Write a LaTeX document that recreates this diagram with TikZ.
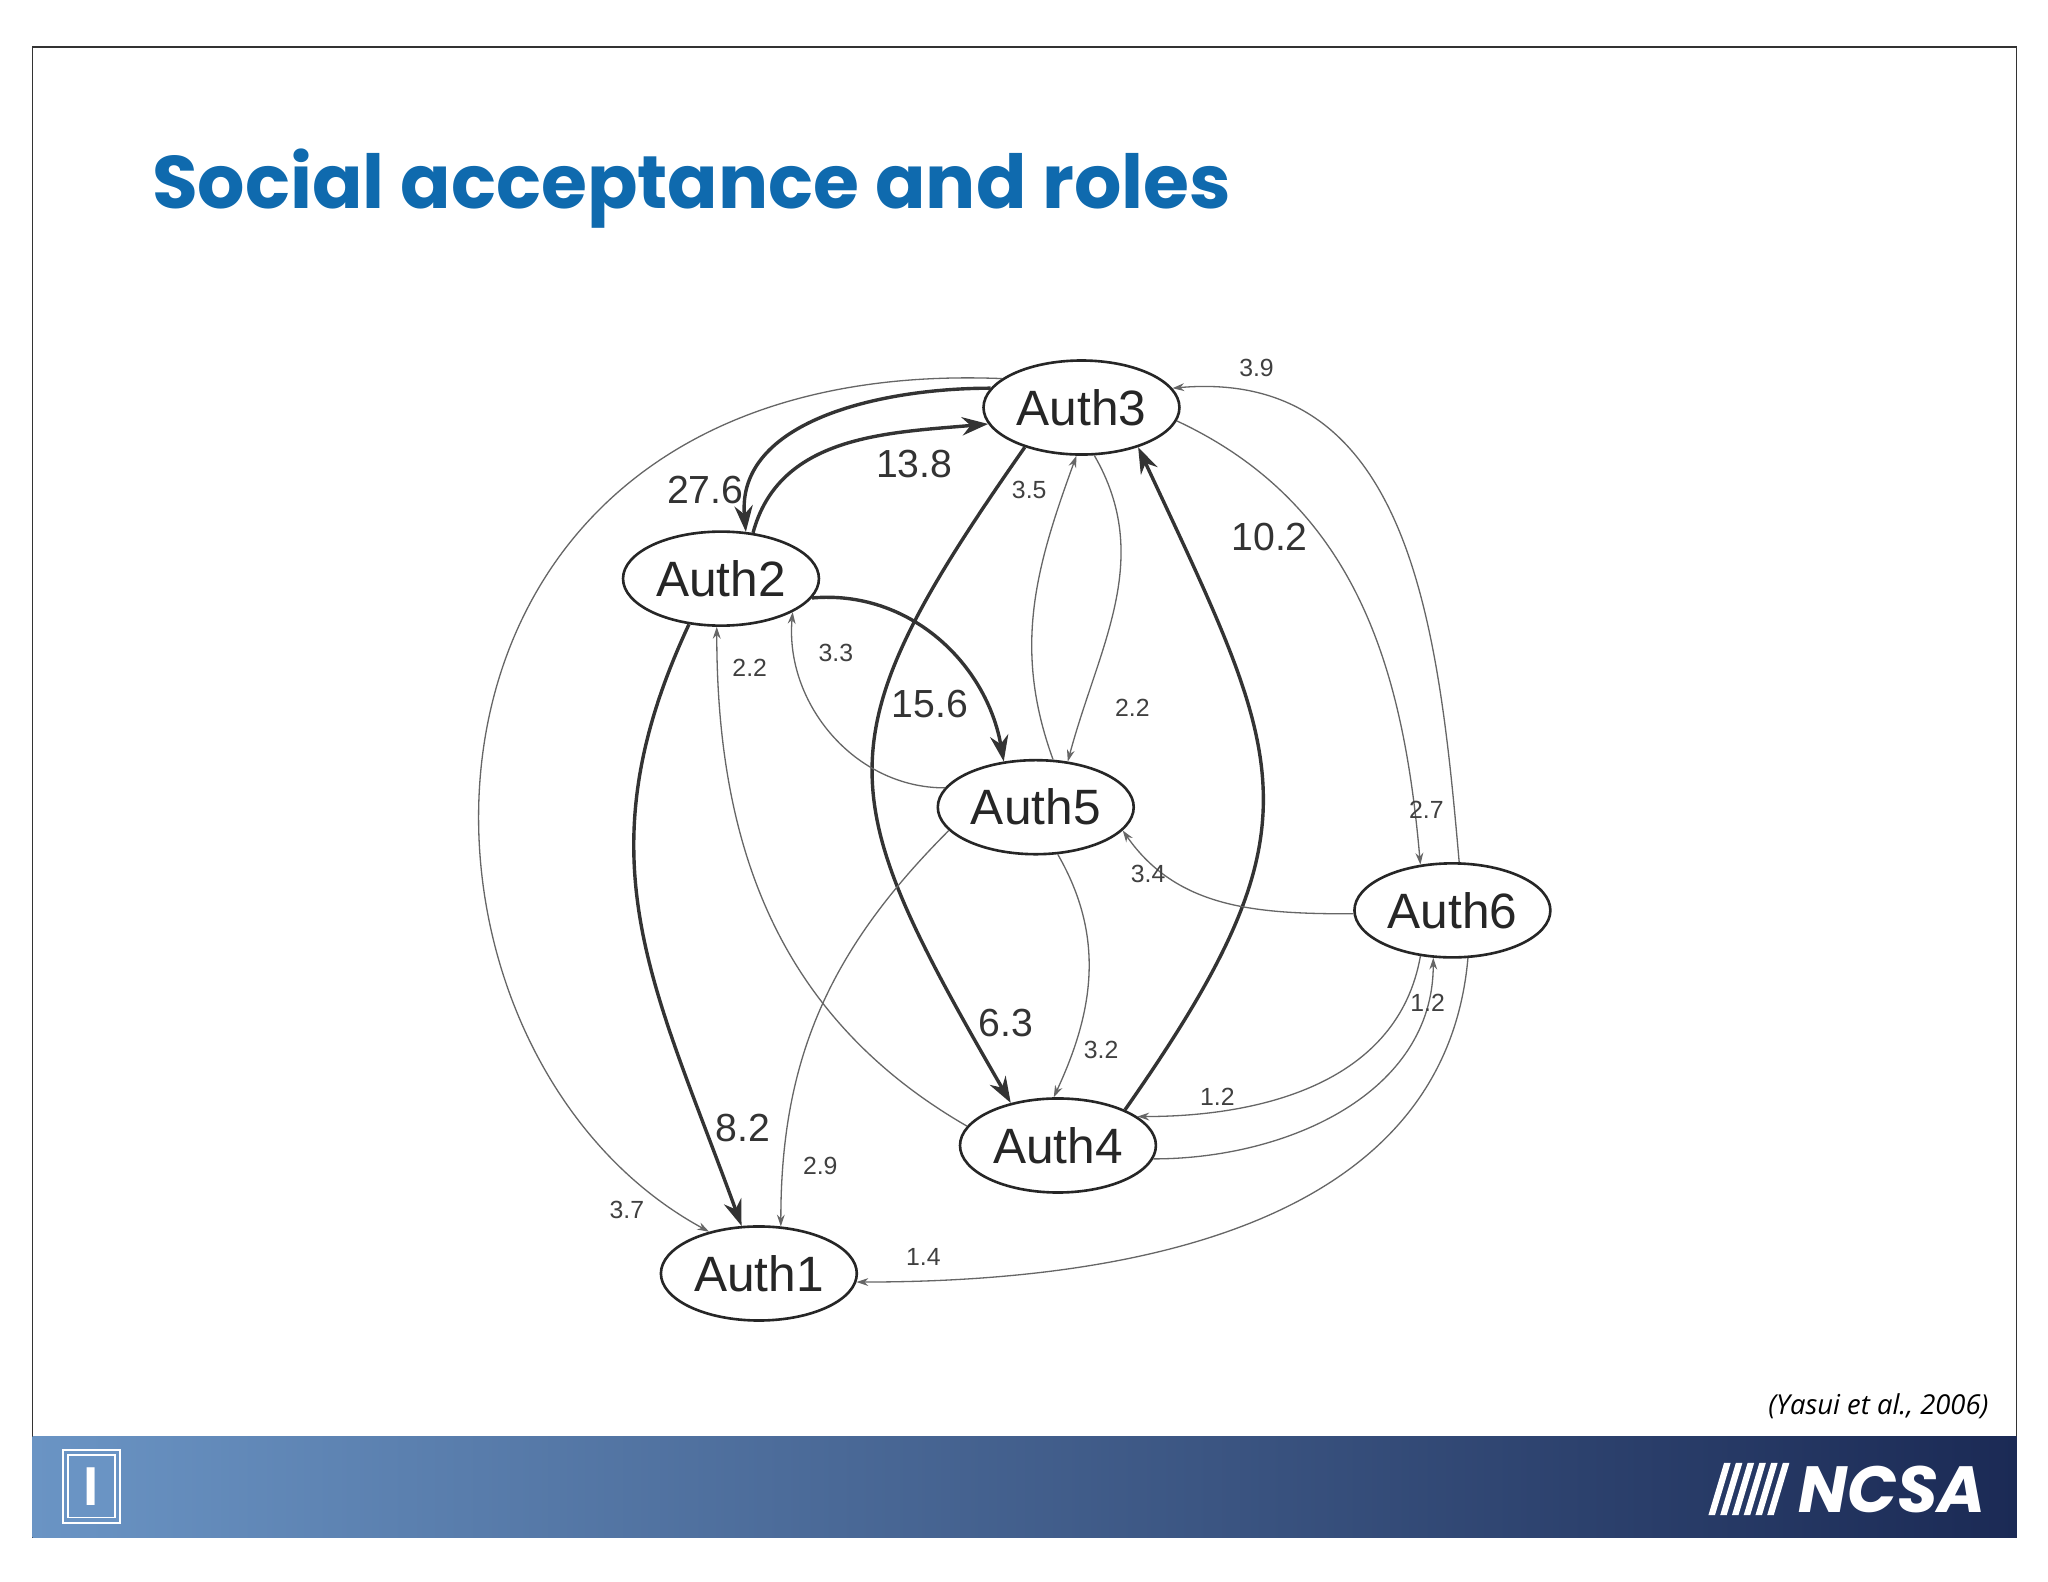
\documentclass[tikz,border=0pt]{standalone}
\usepackage{fontspec}
\setmainfont{Liberation Sans}
\newfontfamily\titlefont{Poppins}
\newfontfamily\citefont{Open Sans}
\usetikzlibrary{shapes.geometric,arrows.meta}
\definecolor{titleblue}{HTML}{0F6AAE}
\definecolor{barl}{HTML}{6A94C4}
\definecolor{barr}{HTML}{1B2A55}
\begin{document}
\begin{tikzpicture}[x=1pt,y=1pt,
  auth/.style={ellipse,draw=black!85,line width=2pt,minimum width=150pt,minimum height=72pt,inner sep=0pt,font=\fontsize{38}{40}\selectfont,text=black!85},
  heavy/.style={line width=2.6pt,draw=black!80,-{Stealth[length=20pt,width=14pt]}},
  light/.style={line width=1pt,draw=black!60,-{Stealth[length=9pt,width=6pt]}},
  big/.style={font=\fontsize{30}{32}\selectfont,text=black!80},
  small/.style={font=\fontsize{19}{21}\selectfont,text=black!75}]
\useasboundingbox (0,0) rectangle (1568,-1211);
\fill[white] (0,0) rectangle (1568,-1211);
\draw[black!80,line width=1pt] (25,-36) rectangle (1544,-1177);
\shade[left color=barl,right color=barr] (25,-1100) rectangle (1544,-1177);
\node[anchor=base west,text=titleblue,font=\titlefont\bfseries\fontsize{57}{60}\selectfont] (title) at (113,-160) {Social acceptance and roles};
\node[anchor=east,font=\citefont\itshape\fontsize{21}{24}\selectfont] (cite) at (1526,-1077) {(Yasui et al., 2006)};
\node[draw=white,line width=1.5pt,minimum width=44pt,minimum height=56pt,fill=barl] (ilogo) at (70,-1138) {};
\node[draw=white,line width=1pt,minimum width=36pt,minimum height=48pt] (ilogoin) at (70,-1138) {};
\node[text=white,font=\rmfamily\bfseries\fontsize{42}{44}\selectfont] (ichar) at (70,-1138) {I};
\node[anchor=east,text=white,font=\titlefont\bfseries\itshape\fontsize{50}{52}\selectfont] (ncsa) at (1524,-1140) {NCSA};
\foreach \i in {0,...,5}{
  \fill[white] ({1308+\i*9},-1160) -- ({1320+\i*9},-1120) -- ({1325+\i*9},-1120) -- ({1313+\i*9},-1160) -- cycle;
}

\node[auth] (a3) at (828,-312) {Auth3};
\node[auth] (a2) at (552,-443) {Auth2};
\node[auth] (a5) at (793,-618) {Auth5};
\node[auth] (a6) at (1112,-697) {Auth6};
\node[auth] (a4) at (810,-877) {Auth4};
\node[auth] (a1) at (581,-975) {Auth1};

\draw[heavy] (a3.168) to[out=180,in=95] (a2.62);
\draw[heavy] (a2.55) to[out=75,in=185] (a3.190);
\draw[heavy] (a2.-12) to[out=5,in=100] (a5.125);
\draw[heavy] (a2.235) to[out=245,in=110,looseness=1.1] (a1.110);
\draw[heavy] (a3.215) to[out=235,in=120,looseness=1.4] (a4.138);
\draw[heavy] (a4.28) to[out=55,in=-65,looseness=1.35] (a3.-35);

\draw[light] (a3.160) .. controls (280,-270) and (280,-800) .. (a1.140);
\draw[light] (a3.-8) to[out=-25,in=95] (a6.125);
\draw[light] (a6.82) to[out=95,in=5,looseness=1.1] (a3.12);
\draw[light] (a5.70) to[out=110,in=-110] (a3.-96);
\draw[light] (a3.-75) to[out=-60,in=75] (a5.55);
\draw[light] (a5.168) to[out=180,in=-95] (a2.-25);
\draw[light] (a4.168) to[out=150,in=-90] (a2.-95);
\draw[light] (a5.195) to[out=225,in=90] (a1.65);
\draw[light] (a5.-65) to[out=-60,in=65] (a4.95);
\draw[light] (a6.182) to[out=180,in=-55] (a5.-15);
\draw[light] (a6.-125) to[out=-100,in=0] (a4.20);
\draw[light] (a4.-8) to[out=0,in=-90] (a6.-112);
\draw[light] (a6.-72) to[out=-95,in=0] (a1.-5);

\node[big] (l276) at (540,-375) {27.6};
\node[big] (l138) at (700,-355) {13.8};
\node[big] (l156) at (712,-539) {15.6};
\node[big] (l82) at (569,-864) {8.2};
\node[big] (l63) at (770,-783) {6.3};
\node[big] (l102) at (972,-411) {10.2};
\node[small] (l37) at (480,-926) {3.7};
\node[small] (l27) at (1092,-620) {2.7};
\node[small] (l39) at (962,-282) {3.9};
\node[small] (l35) at (788,-375) {3.5};
\node[small] (l22a) at (867,-542) {2.2};
\node[small] (l33) at (640,-500) {3.3};
\node[small] (l22b) at (574,-511) {2.2};
\node[small] (l29) at (628,-893) {2.9};
\node[small] (l32) at (843,-804) {3.2};
\node[small] (l34) at (879,-669) {3.4};
\node[small] (l12a) at (932,-840) {1.2};
\node[small] (l12b) at (1093,-768) {1.2};
\node[small] (l14) at (707,-962) {1.4};
\end{tikzpicture}
\end{document}
